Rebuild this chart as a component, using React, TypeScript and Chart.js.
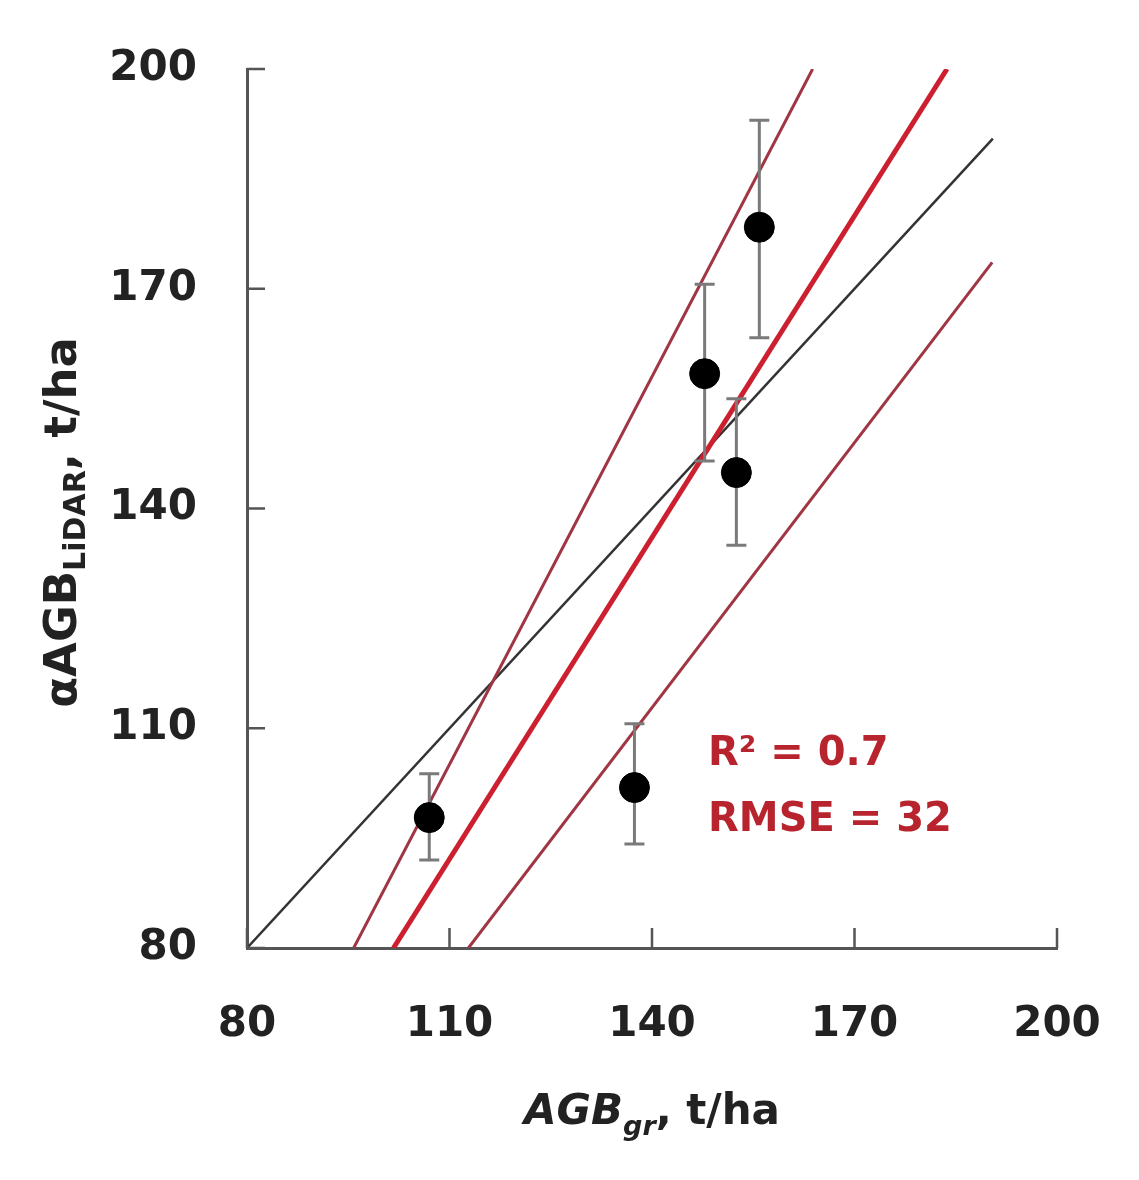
import React, { useEffect, useRef } from "react";
import { Chart, registerables } from "chart.js";

Chart.register(...registerables);

// ---- data ----
const xTicks = [80, 110, 140, 170, 200];
const yTicks = [80, 110, 140, 170, 200];

const agbGround = [107, 137.4, 147.8, 152.5, 155.9];
const agbLidar = [97.8, 101.9, 158.4, 144.9, 178.4];
const errLow = [92, 94.2, 146.5, 135, 163.3];
const errHigh = [103.8, 110.6, 170.6, 155, 193];

const oneToOneX = [80, 190.5];
const oneToOneY = [80, 190.5];
const fitX = [101.7, 183.7];
const fitY = [80, 200];
const upperX = [95.8, 163.8];
const upperY = [80, 200];
const lowerX = [112.8, 190.4];
const lowerY = [80, 173.6];

const statsText = ["R\u00B2 = 0.7", "RMSE = 32"];
const statsAnchorX = 148.3;
const statsAnchorY = [105, 96];

const FONT = "'DejaVu Sans', sans-serif";

const toXY = (xs: number[], ys: number[]) => xs.map((x, i) => ({ x, y: ys[i] }));

const inwardTicks = {
  id: "inwardTicks",
  afterDatasetsDraw(chart: any) {
    const { ctx, chartArea, scales } = chart;
    const xs = scales.x;
    const ys = scales.y;
    ctx.save();
    ctx.strokeStyle = "#555";
    ctx.lineWidth = 2.5;
    ctx.beginPath();
    xTicks.forEach((v) => {
      const p = xs.getPixelForValue(v);
      ctx.moveTo(p, chartArea.bottom);
      ctx.lineTo(p, chartArea.bottom - 20);
    });
    yTicks.forEach((v) => {
      const p = ys.getPixelForValue(v);
      ctx.moveTo(chartArea.left, p);
      ctx.lineTo(chartArea.left + 18, p);
    });
    ctx.stroke();
    ctx.restore();
  },
};

const errorBars = {
  id: "errorBars",
  beforeDatasetDraw(chart: any, args: any) {
    if (args.index !== 0) return;
    const { ctx, scales } = chart;
    ctx.save();
    ctx.strokeStyle = "#7a7a7a";
    ctx.lineWidth = 3;
    ctx.beginPath();
    agbGround.forEach((gx, i) => {
      const px = scales.x.getPixelForValue(gx);
      const lo = scales.y.getPixelForValue(errLow[i]);
      const hi = scales.y.getPixelForValue(errHigh[i]);
      ctx.moveTo(px, lo);
      ctx.lineTo(px, hi);
      ctx.moveTo(px - 10, lo);
      ctx.lineTo(px + 10, lo);
      ctx.moveTo(px - 10, hi);
      ctx.lineTo(px + 10, hi);
    });
    ctx.stroke();
    ctx.restore();
  },
};

const drawParts = (ctx: CanvasRenderingContext2D, parts: { t: string; f: string; dy: number }[], cx: number, baseY: number) => {
  let total = 0;
  parts.forEach((p) => {
    ctx.font = p.f;
    total += ctx.measureText(p.t).width;
  });
  let x = cx - total / 2;
  parts.forEach((p) => {
    ctx.font = p.f;
    ctx.fillText(p.t, x, baseY + p.dy);
    x += ctx.measureText(p.t).width;
  });
};

const annotations = {
  id: "annotations",
  afterDraw(chart: any) {
    const { ctx, chartArea, scales } = chart;
    ctx.save();
    // stats text
    ctx.fillStyle = "#b8242e";
    ctx.font = `bold 40px ${FONT}`;
    ctx.textAlign = "left";
    ctx.textBaseline = "alphabetic";
    statsText.forEach((t, i) => {
      ctx.fillText(t, scales.x.getPixelForValue(statsAnchorX), scales.y.getPixelForValue(statsAnchorY[i]));
    });
    // x title
    ctx.fillStyle = "#222";
    const cx = (chartArea.left + chartArea.right) / 2;
    drawParts(
      ctx,
      [
        { t: "AGB", f: `italic bold 42px ${FONT}`, dy: 0 },
        { t: "gr", f: `italic bold 27px ${FONT}`, dy: 11 },
        { t: ", t/ha", f: `bold 42px ${FONT}`, dy: 0 },
      ],
      cx,
      1124
    );
    // y title
    const cy = (chartArea.top + chartArea.bottom) / 2 + 14;
    ctx.translate(76, cy);
    ctx.rotate(-Math.PI / 2);
    drawParts(
      ctx,
      [
        { t: "\u03B1AGB", f: `bold 45px ${FONT}`, dy: 0 },
        { t: "LiDAR", f: `bold 30px ${FONT}`, dy: 9 },
        { t: ", t/ha", f: `bold 45px ${FONT}`, dy: 0 },
      ],
      0,
      0
    );
    ctx.restore();
  },
};

export default function App() {
  const ref = useRef<HTMLCanvasElement | null>(null);

  useEffect(() => {
    if (!ref.current) return;
    const chart = new Chart(ref.current, {
      type: "scatter",
      data: {
        datasets: [
          {
            label: "plots",
            data: toXY(agbGround, agbLidar),
            backgroundColor: "#000",
            borderColor: "#000",
            pointRadius: 15,
            pointHoverRadius: 15,
            showLine: false,
          },
          {
            label: "regression",
            data: toXY(fitX, fitY),
            showLine: true,
            borderColor: "#cc1f2f",
            borderWidth: 5,
            pointRadius: 0,
          },
          {
            label: "upper",
            data: toXY(upperX, upperY),
            showLine: true,
            borderColor: "#a03644",
            borderWidth: 3,
            pointRadius: 0,
          },
          {
            label: "lower",
            data: toXY(lowerX, lowerY),
            showLine: true,
            borderColor: "#a03644",
            borderWidth: 3,
            pointRadius: 0,
          },
          {
            label: "1:1",
            data: toXY(oneToOneX, oneToOneY),
            showLine: true,
            borderColor: "#333",
            borderWidth: 2.5,
            pointRadius: 0,
          },
        ],
      },
      options: {
        animation: false,
        responsive: false,
        maintainAspectRatio: false,
        layout: { padding: { top: 69, right: 82, left: 0, bottom: 0 } },
        plugins: { legend: { display: false }, tooltip: { enabled: false } },
        scales: {
          x: {
            type: "linear",
            min: 80,
            max: 200,
            afterBuildTicks: (s: any) => {
              s.ticks = xTicks.map((v) => ({ value: v }));
            },
            afterFit: (s: any) => {
              s.height = 232;
              s.paddingLeft = 0;
              s.paddingRight = 0;
            },
            ticks: {
              font: { family: FONT, weight: "bold", size: 42 },
              color: "#222",
              padding: 52,
            },
            grid: { display: false, drawTicks: false },
            border: { display: true, color: "#555", width: 3 },
          },
          y: {
            type: "linear",
            min: 80,
            max: 200,
            afterBuildTicks: (s: any) => {
              s.ticks = yTicks.map((v) => ({ value: v }));
            },
            afterFit: (s: any) => {
              s.width = 247;
              s.paddingTop = 0;
              s.paddingBottom = 0;
            },
            ticks: {
              font: { family: FONT, weight: "bold", size: 42 },
              color: "#222",
              padding: 50,
            },
            grid: { display: false, drawTicks: false },
            border: { display: true, color: "#555", width: 3 },
          },
        },
      },
      plugins: [errorBars, inwardTicks, annotations],
    });
    return () => chart.destroy();
  }, []);

  return (
    <div style={{ position: "absolute", left: 0, top: 0, width: 1139, height: 1180, background: "#fff" }}>
      <canvas ref={ref} width={1139} height={1180} style={{ display: "block" }} />
    </div>
  );
}
